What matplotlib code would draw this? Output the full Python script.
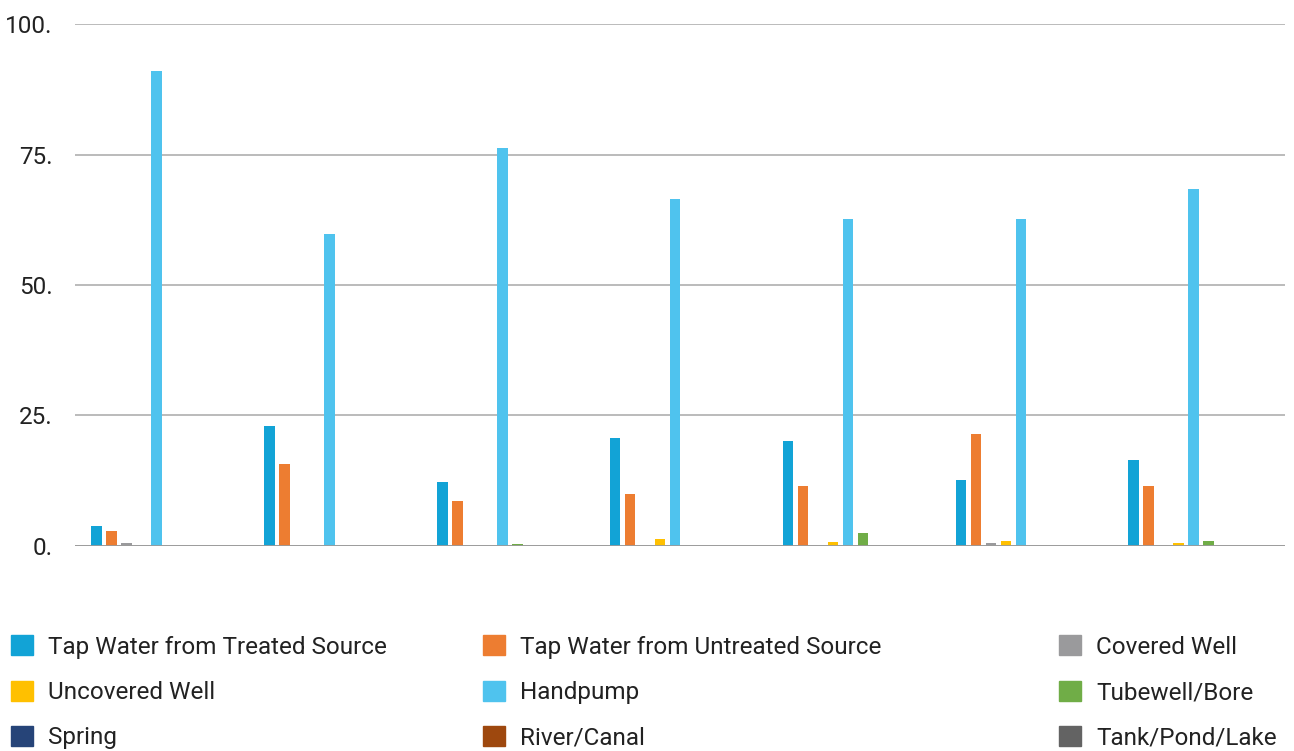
import numpy as np
import matplotlib.pyplot as plt
from matplotlib.patches import Patch

plt.rcParams['font.family'] = ['Roboto', 'DejaVu Sans']

# Datos (7 grupos, 9 fuentes de agua)
series_names = [
    "Tap Water from Treated Source", "Tap Water from Untreated Source", "Covered Well",
    "Uncovered Well", "Handpump", "Tubewell/Bore",
    "Spring", "River/Canal", "Tank/Pond/Lake",
]
treated = [3.9, 23.0, 12.3, 20.7, 20.1, 12.6, 16.5]
untreated = [2.9, 15.7, 8.6, 10.0, 11.5, 21.5, 11.5]
covered = [0.6, 0.0, 0.0, 0.0, 0.0, 0.6, 0.0]
uncovered = [0.0, 0.0, 0.0, 1.3, 0.8, 1.0, 0.6]
handpump = [91.0, 59.8, 76.2, 66.5, 62.6, 62.6, 68.4]
tubewell = [0.0, 0.0, 0.4, 0.0, 2.5, 0.0, 1.0]
spring = [0.0, 0.0, 0.0, 0.0, 0.0, 0.0, 0.0]
river = [0.0, 0.0, 0.0, 0.0, 0.0, 0.0, 0.0]
tank = [0.0, 0.0, 0.0, 0.0, 0.0, 0.0, 0.0]
all_series = [treated, untreated, covered, uncovered, handpump, tubewell, spring, river, tank]

colors = ['#12a3d6', '#ed7d31', '#9a9a9c', '#ffc000', '#4fc3ee',
          '#70ad47', '#264478', '#9e480e', '#636363']
yticks = [0, 25, 50, 75, 100]
ytick_labels = ["0.", "25.", "50.", "75.", "100."]

fig = plt.figure(figsize=(12.94, 7.51), dpi=100)
ax = fig.add_axes([0.058, 0.273, 0.935, 0.695])

x = np.arange(len(treated))
step = 0.0868
width = 0.061
for k, (vals, c) in enumerate(zip(all_series, colors)):
    ax.bar(x + (k - 4) * step - 0.028, vals, width=width, color=c, zorder=3)

ax.set_xlim(-0.5, len(treated) - 0.5)
ax.set_ylim(0, 100)
ax.set_yticks(yticks)
ax.set_yticklabels(ytick_labels, fontsize=17.5, color='#222222')
ax.set_xticks([])
ax.tick_params(axis='y', length=0, pad=16)
for s in ax.spines.values():
    s.set_visible(False)
ax.grid(axis='y', color='#b5b5b5', linewidth=1.3, zorder=0)
ax.axhline(0, color='#9a9a9a', linewidth=2, zorder=4)

# Leyenda en tres columnas colocadas a mano
col_x = [0.0008, 0.3655, 0.8107]
for j in range(3):
    handles = [Patch(color=colors[j + 3 * r]) for r in range(3)]
    labels = [series_names[j + 3 * r] for r in range(3)]
    leg = fig.legend(handles, labels, loc='upper left', bbox_to_anchor=(col_x[j], 0.167),
                     frameon=False, ncol=1, fontsize=17.5, handlelength=0.9, handleheight=0.9,
                     handletextpad=0.65, labelspacing=0.9, borderaxespad=0)
    for t in leg.get_texts():
        t.set_color('#222222')

fig.savefig("out.png", dpi=100)
